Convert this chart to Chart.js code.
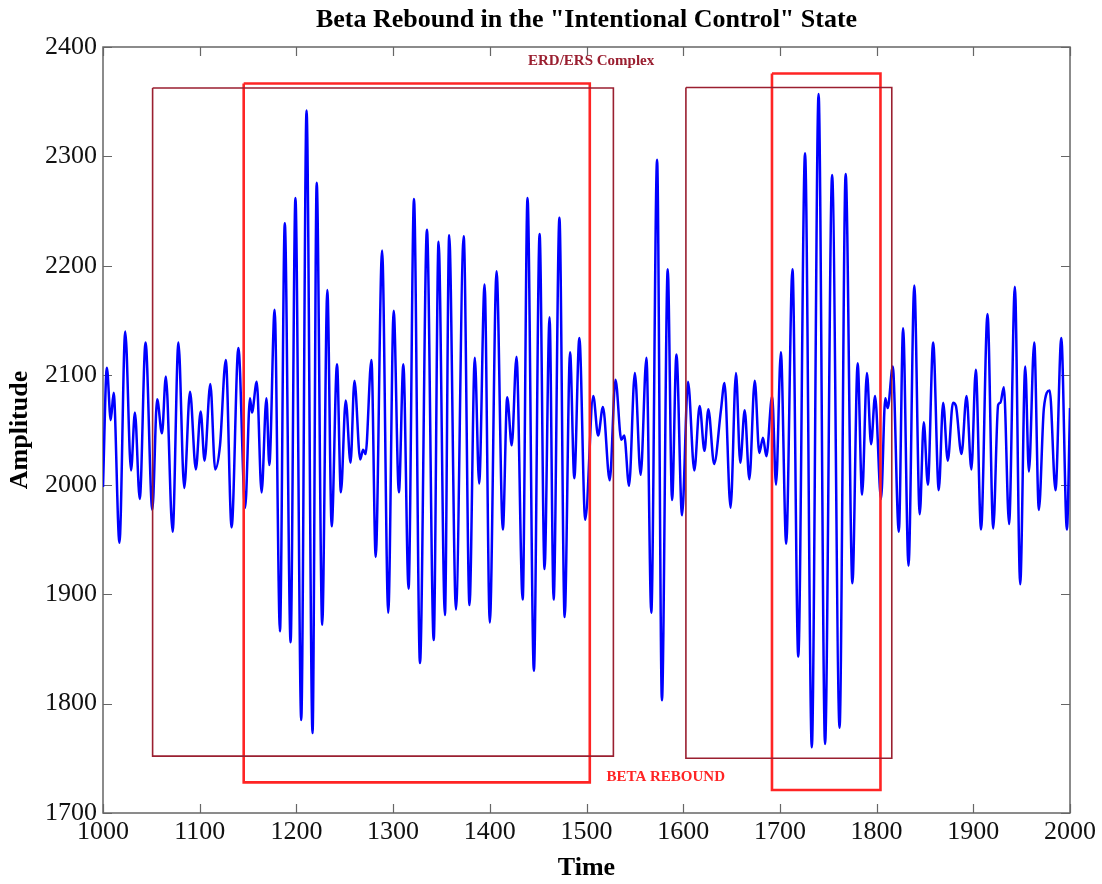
<!DOCTYPE html>
<html><head><meta charset="utf-8">
<script src="https://cdn.jsdelivr.net/npm/chart.js@4.4.0/dist/chart.umd.min.js"></script>
<style>html,body{margin:0;padding:0;background:#fff}#wrap{width:1102px;height:884px;position:relative}</style>
</head><body><div id="wrap"><canvas id="c"></canvas></div>
<script>
// Signal (local extrema and shoulders)
const times = [
1000,1004,1008,1011,1017,1023,1029,1033,1038,1044,1051,1056,1061,1065,1072,1078,1084,1090,1096,1101,1105,1111,1116,1121,1127,
1133,1140,1147,1152,1154,1159,1164,1169,1172,1177.5,1183,1188,1194,1199,1205,1210.5,1216.7,1221,1226.7,1232,1236.5,1242,1246,1251,1256,
1260,1266,1269,1271.5,1277.6,1282,1288.6,1295,1300.6,1306,1310.6,1316,1321.6,1327.8,1335,1342,1347,1353.6,1358,1365,1373,1379,1384.5,
1389,1394.6,1400,1407,1413.5,1418,1422.7,1427.6,1434,1439,1445.6,1451.5,1456.6,1461.8,1466,1472,1477.4,1483,1487.4,1492.6,1498.7,1507,1512,
1517,1524,1530,1536,1539,1544,1550,1556,1562,1567,1573,1578,1584,1588.5,1593,1598.8,1605,1611.5,1617,1622,1626,1632,1639,1642.7,
1649,1654.6,1659,1663.6,1668.4,1674,1678.7,1682.5,1686,1692,1696,1701,1706.5,1713,1719,1726,1733,1740,1746.7,1754,1761.7,1768,1775,
1780.4,1785,1790,1794.3,1798.4,1804.6,1809,1811.5,1816.7,1823,1827.4,1833,1839,1844.6,1848.8,1853,1858.5,1864.3,1868.8,1873.6,1879,1882,1887.8,1893,1898,1902.6,
1908,1914.7,1920.6,1925.7,1928,1931.6,1937,1943,1948.5,1953.7,1957.5,1963,1967.8,1973,1979,1985,1991,1996.8,2000
];
const amplitudes = [
1998,2107,2059,2084,1947,2140,2013,2066,1987,2130,1977,2078,2047,2099,1957,2130,1997,2085,2014,2067,2022,2092,2014,2036,2114,
1961,2125,1979,2079,2066,2094,1993,2079,2018,2160,1866,2239,1856,2262,1785,2342,1773,2276,1872,2178,1962,2110,1993,2077,2020,
2095,2023,2032,2028,2114,1934,2214,1883,2159,1993,2110,1905,2261,1837,2233,1858,2222,1881,2228,1886,2227,1890,2116,
2001,2183,1874,2195,1959,2080,2036,2117,1895,2262,1830,2229,1923,2153,1895,2244,1879,2121,2006,2134,1968,2081,2045,
2071,2004,2096,2041,2045,1999,2102,2009,2116,1883,2297,1803,2197,1986,2119,1972,2094,2013,2072,2031,2069,2019,2068,2093,
1979,2102,2020,2068,2005,2095,2029,2043,2026,2081,2000,2121,1946,2197,1843,2303,1760,2357,1763,2283,1778,2284,1910,
2111,1991,2102,2037,2081,1987,2079,2070,2108,1957,2143,1926,2182,1973,2057,2000,2130,1995,2075,2022,2075,2072,2028,2081,2014,2105,
1959,2156,1960,2073,2075,2089,1964,2181,1909,2108,2012,2130,1977,2070,2086,1995,2134,1959,2070
];
const xTickValues = [1000,1100,1200,1300,1400,1500,1600,1700,1800,1900,2000];
const yTickValues = [1700,1800,1900,2000,2100,2200,2300,2400];

// Highlight boxes (data coordinates)
const boxKinds = ['erd','beta','erd','beta'];
const boxX1 = [1051.3, 1145.5, 1602.8, 1691.8];
const boxX2 = [1527.8, 1503.4, 1815.7, 1804.0];
const boxY1 = [1752, 1728, 1750, 1721];
const boxY2 = [2362.5, 2366.6, 2363, 2375.8];

// Annotation labels (data coordinates)
const noteTexts = ['ERD/ERS Complex', 'BETA REBOUND'];
const noteKinds = ['erd', 'beta'];
const noteX = [1504.8, 1582];
const noteY = [2387.2, 1732.4];

const COLORS = { erd: '#9a1f30', beta: '#ff2424' };
const WIDTHS = { erd: 1.6, beta: 2.6 };

const boxDatasets = boxKinds.map((k, i) => ({
  label: 'box' + i,
  data: [
    {x: boxX1[i], y: boxY2[i]}, {x: boxX2[i], y: boxY2[i]},
    {x: boxX2[i], y: boxY1[i]}, {x: boxX1[i], y: boxY1[i]},
    {x: boxX1[i], y: boxY2[i]}
  ],
  borderColor: COLORS[k], borderWidth: WIDTHS[k], pointRadius: 0, tension: 0,
  fill: false, order: 0, borderJoinStyle: 'miter'
}));

const signal = {
  label: 'Amplitude',
  data: times.map((t, i) => ({x: t, y: amplitudes[i]})),
  borderColor: '#0000ff', borderWidth: 2.5, pointRadius: 0,
  cubicInterpolationMode: 'monotone', fill: false, order: 1
};

const framePlugin = {
  id: 'frame',
  beforeDatasetsDraw(chart) {
    const {ctx, chartArea: a, scales: {x, y}} = chart;
    ctx.save();
    ctx.strokeStyle = '#666';
    ctx.lineWidth = 1.5;
    ctx.strokeRect(a.left, a.top, a.right - a.left, a.bottom - a.top);
    const L = 9;
    ctx.beginPath();
    x.ticks.forEach(t => {
      const p = Math.round(x.getPixelForValue(t.value)) + 0.5;
      ctx.moveTo(p, a.bottom); ctx.lineTo(p, a.bottom - L);
      ctx.moveTo(p, a.top); ctx.lineTo(p, a.top + L);
    });
    y.ticks.forEach(t => {
      const p = Math.round(y.getPixelForValue(t.value)) + 0.5;
      ctx.moveTo(a.left, p); ctx.lineTo(a.left + L, p);
      ctx.moveTo(a.right, p); ctx.lineTo(a.right - L, p);
    });
    ctx.lineWidth = 1.2;
    ctx.stroke();
    ctx.restore();
  },
  afterDatasetsDraw(chart) {
    const {ctx, scales: {x, y}} = chart;
    ctx.save();
    ctx.font = 'bold 15px "Liberation Serif", "Times New Roman", serif';
    ctx.textAlign = 'center';
    ctx.textBaseline = 'middle';
    noteTexts.forEach((txt, i) => {
      ctx.fillStyle = COLORS[noteKinds[i]];
      ctx.fillText(txt, x.getPixelForValue(noteX[i]), y.getPixelForValue(noteY[i]));
    });
    ctx.restore();
  }
};

const serif = '"Liberation Serif", "Times New Roman", serif';

new Chart(document.getElementById('c'), {
  type: 'line',
  data: { datasets: [...boxDatasets, signal] },
  options: {
    responsive: true, maintainAspectRatio: false, animation: false,
    layout: { padding: { left: 0, right: 32, top: 0, bottom: 0 } },
    plugins: {
      legend: { display: false },
      tooltip: { enabled: false },
      title: {
        display: true, fullSize: false,
        text: 'Beta Rebound in the "Intentional Control" State',
        color: '#000',
        font: { family: serif, size: 26, weight: 'bold' },
        padding: { top: 5, bottom: 10.8 }
      }
    },
    scales: {
      x: {
        type: 'linear', min: 1000, max: 2000,
        afterBuildTicks: s => { s.ticks = xTickValues.map(v => ({value: v})); },
        afterFit: s => { s.height = 71; },
        grid: { display: false, drawTicks: false },
        border: { display: false },
        ticks: { color: '#111', padding: 4, maxRotation: 0, font: { family: serif, size: 26 }, callback: v => String(v) },
        title: { display: true, text: 'Time', color: '#000', font: { family: serif, size: 26, weight: 'bold' }, padding: { top: 0, bottom: 0 } }
      },
      y: {
        type: 'linear', min: 1700, max: 2400,
        afterBuildTicks: s => { s.ticks = yTickValues.map(v => ({value: v})); },
        afterFit: s => { s.width = 103; },
        grid: { display: false, drawTicks: false },
        border: { display: false },
        ticks: { color: '#111', padding: 6, font: { family: serif, size: 26 }, callback: v => String(v) },
        title: { display: true, text: 'Amplitude', color: '#000', font: { family: serif, size: 26, weight: 'bold' }, padding: { top: 5, bottom: 0 } }
      }
    }
  },
  plugins: [framePlugin]
});
</script>
</body></html>
